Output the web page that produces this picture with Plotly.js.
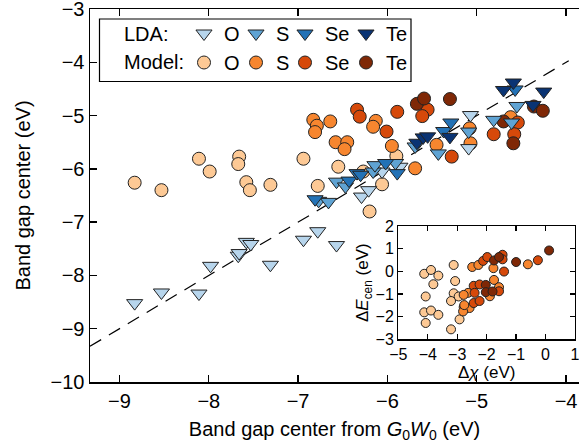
<!DOCTYPE html>
<html>
<head>
<meta charset="utf-8">
<script src="https://cdn.plot.ly/plotly-3.0.1.min.js"></script>
<style>html,body{margin:0;padding:0;background:#fff;}#plot{width:579px;height:446px;}</style>
</head>
<body>
<div id="plot"></div>
<script>
// ---------- main panel data ----------
const ldaO_x = [-8.83,-8.53,-8.11,-7.98,-7.67,-7.66,-7.58,-7.53,-7.31,-6.94,-6.78,-6.57,-6.29,-6.21,-6.06,-5.86,-5.07,-5.09];
const ldaO_y = [-8.52,-8.32,-8.34,-7.82,-7.63,-7.58,-7.37,-7.41,-7.80,-7.33,-7.17,-7.43,-6.52,-6.40,-6.05,-5.96,-4.99,-5.61];
const ldaS_x = [-6.77,-6.66,-6.57,-6.47,-6.16,-6.14,-5.91,-5.69,-5.43,-5.09,-4.81,-4.55,-4.61];
const ldaS_y = [-6.60,-6.62,-6.24,-6.33,-6.05,-5.93,-5.89,-5.58,-5.71,-5.30,-5.08,-4.82,-5.13];
const ldaSe_x = [-6.81,-6.43,-6.34,-6.30,-6.02,-5.89,-5.37,-5.29,-4.57];
const ldaSe_y = [-6.57,-6.22,-6.08,-6.11,-5.89,-6.08,-5.29,-5.13,-4.51];
const ldaTe_x = [-5.67,-5.60,-5.55,-5.30,-4.70,-4.59,-4.37,-4.25];
const ldaTe_y = [-5.51,-5.41,-5.39,-5.40,-4.52,-4.38,-4.80,-4.55];

const modO_x = [-8.83,-8.53,-8.11,-7.99,-7.66,-7.67,-7.58,-7.54,-7.31,-6.94,-6.78,-6.55,-6.27,-6.06,-6.20,-5.90];
const modO_y = [-6.26,-6.40,-5.81,-6.05,-5.77,-5.91,-6.25,-6.40,-6.30,-5.81,-6.32,-5.96,-6.05,-6.29,-6.80,-5.76];
const modS_x = [-6.83,-6.79,-6.81,-6.64,-6.58,-6.45,-6.48,-6.13,-6.16,-5.95,-5.69,-5.45,-5.08,-5.07,-4.62];
const modS_y = [-5.08,-5.19,-5.31,-5.11,-5.50,-5.50,-5.63,-5.10,-5.21,-5.57,-5.99,-5.55,-5.24,-5.52,-5.03];
const modSe_x = [-6.34,-6.31,-5.89,-6.01,-5.55,-5.61,-5.28,-4.81,-4.54,-4.58];
const modSe_y = [-4.89,-5.02,-4.93,-5.30,-4.89,-5.01,-5.77,-5.35,-5.13,-5.35];
const modTe_x = [-5.67,-5.59,-5.30,-4.70,-4.59,-4.36,-4.26];
const modTe_y = [-4.78,-4.68,-4.69,-5.11,-5.52,-4.83,-4.91];

// y = x guide line end points
const guide_x = [-9.33, -3.97];
const guide_y = [-9.33, -3.97];

// ---------- inset data (Model) ----------
const inO_x = [-4.12,-3.89,-3.64,-3.81,-4.07,-4.12,-3.89,-3.64,-4.07,-3.12,-3.07,-3.12,-3.21,-2.95,-2.92,-3.21];
const inO_y = [-0.11,0.06,-0.19,-0.57,-1.11,-1.81,-1.73,-1.92,-2.28,0.28,-0.43,-0.97,-1.31,-1.11,-2.12,-2.56];
const inS_x = [-2.49,-2.28,-1.77,-0.60,-1.75,-1.58,-1.89,-2.63,-2.78,-2.78,-2.58,-2.80,-2.76];
const inS_y = [0.19,0.28,0.14,0.31,-0.38,-0.70,-1.10,-0.95,-1.04,-1.58,-1.62,-1.77,-1.49];
const inSe_x = [-2.12,-1.98,-1.46,-1.46,-1.41,-0.26,-2.44,-2.24,-2.41,-2.44,-2.24,-1.58];
const inSe_y = [0.46,0.63,0.73,0.53,-0.01,0.49,-0.64,-0.58,-0.95,-1.40,-1.31,-0.88];
const inTe_x = [-1.75,-1.58,-1.00,0.12,-2.03,-2.03,-1.80];
const inTe_y = [0.48,0.63,0.41,0.92,-0.60,-0.92,-0.89];

const mainTicksX = [-9,-8,-7,-6,-5,-4];
const mainTicksY = [-10,-9,-8,-7,-6,-5,-4,-3];
const insetTicksX = [-5,-4,-3,-2,-1,0,1];
const insetTicksY = [-3,-2,-1,0,1,2];
const elements = ['O','S','Se','Te'];

// ---------- styles ----------
const ldaColors = ['#b7d5ec','#5fa3d3','#2372b6','#0a3474'];
const modColors = ['#fdc995','#f7862f','#d6490a','#7f2806'];
const FONT = 'Liberation Sans, Arial, Helvetica, sans-serif';
const edge = {color:'#222', width:1};

// pixel -> paper helpers (layout only)
const L = 90, T = 9, W = 489, H = 373;
const PX = p => (p - L) / W;
const PY = p => (T + H - p) / H;

const legendNames = ['legend','legend2','legend3','legend4'];
const modX = [modO_x, modS_x, modSe_x, modTe_x], modY = [modO_y, modS_y, modSe_y, modTe_y];
const ldaX = [ldaO_x, ldaS_x, ldaSe_x, ldaTe_x], ldaY = [ldaO_y, ldaS_y, ldaSe_y, ldaTe_y];
const inX = [inO_x, inS_x, inSe_x, inTe_x], inY = [inO_y, inS_y, inSe_y, inTe_y];

const traces = [];
traces.push({x: guide_x, y: guide_y, mode:'lines', line:{color:'#000', width:1.2, dash:'13px,9px'}, showlegend:false, hoverinfo:'skip'});
elements.forEach((el, i) => {
  traces.push({x: modX[i], y: modY[i], mode:'markers', name: el, legend: legendNames[i], legendrank: 2,
    marker:{symbol:'circle', size:13, color: modColors[i], line: edge}});
});
elements.forEach((el, i) => {
  traces.push({x: ldaX[i], y: ldaY[i], mode:'markers', name: el, legend: legendNames[i], legendrank: 1,
    marker:{symbol:'triangle-down', size:14, color: ldaColors[i], line: edge}});
});
elements.forEach((el, i) => {
  traces.push({x: inX[i], y: inY[i], mode:'markers', xaxis:'x2', yaxis:'y2', showlegend:false,
    marker:{symbol:'circle', size:9, color: modColors[i], line: edge}});
});

const symX = [204, 256, 305, 366];
const legendBase = {orientation:'v', xanchor:'left', yanchor:'top', y: PY(14), bgcolor:'rgba(0,0,0,0)',
  borderwidth:0, font:{family:FONT, size:20, color:'#000'}, tracegroupgap:0, itemclick:false};

const layout = {
  width:579, height:446,
  margin:{l:L, r:579-L-W, t:T, b:446-T-H, pad:0},
  paper_bgcolor:'#fff', plot_bgcolor:'rgba(0,0,0,0)',
  font:{family:FONT, size:20, color:'#000'},
  showlegend:true,
  xaxis:{range:[-9.33,-3.855], tickvals: mainTicksX, ticks:'inside', ticklen:7, tickwidth:1.3, tickcolor:'#000',
    showline:true, linecolor:'#000', linewidth:1.5, mirror:'allticks', showgrid:false, zeroline:false, ticklabeloverflow:'allow',
    tickfont:{size:20}, title:{text:'Band gap center from <i>G</i><sub>0</sub><i>W</i><sub>0</sub> (eV)', font:{size:20}, standoff:11}},
  yaxis:{range:[-10,-3], tickvals: mainTicksY, ticks:'inside', ticklen:7, tickwidth:1.3, tickcolor:'#000',
    showline:true, linecolor:'#000', linewidth:1.5, mirror:false, showgrid:false, zeroline:false, ticklabeloverflow:'allow',
    tickfont:{size:20}, title:{text:'Band gap center (eV)', font:{size:20}, standoff:14}},
  xaxis2:{domain:[PX(398.3), PX(575)], anchor:'y2', range:[-5,1], tickvals: insetTicksX, ticks:'inside', ticklen:5, tickwidth:1.2, tickcolor:'#000',
    showline:true, linecolor:'#000', linewidth:1.3, mirror:'allticks', showgrid:false, zeroline:false, ticklabeloverflow:'allow',
    tickfont:{size:16}, title:{text:'Δ<i>χ</i> (eV)', font:{size:17}, standoff:1}},
  yaxis2:{domain:[PY(339.3), PY(226)], anchor:'x2', range:[-3,2], tickvals: insetTicksY, ticks:'inside', ticklen:5, tickwidth:1.2, tickcolor:'#000',
    showline:true, linecolor:'#000', linewidth:1.3, mirror:'allticks', showgrid:false, zeroline:false, ticklabeloverflow:'allow',
    tickfont:{size:16}, title:{text:'Δ<i>E</i><sub>cen</sub> (eV)', font:{size:17}, standoff:2}},
  shapes:[
    {type:'rect', xref:'paper', yref:'paper', x0:PX(398.3), x1:PX(575), y0:PY(339.3), y1:PY(226), fillcolor:'#fff', line:{width:0}, layer:'below'},
    {type:'rect', xref:'paper', yref:'paper', x0:PX(99.5), x1:PX(411), y0:PY(81.5), y1:PY(19), fillcolor:'rgba(0,0,0,0)', line:{color:'#000', width:1.2}, layer:'above'}
  ],
  annotations:[
    {text:'LDA:', xref:'paper', yref:'paper', x:PX(122), y:PY(34), xanchor:'left', yanchor:'middle', showarrow:false, font:{size:20}},
    {text:'Model:', xref:'paper', yref:'paper', x:PX(122), y:PY(62), xanchor:'left', yanchor:'middle', showarrow:false, font:{size:20}}
  ]
};
legendNames.forEach((nm, i) => {
  layout[nm] = Object.assign({}, legendBase, {x: PX(symX[i] - 20)});
});

Plotly.newPlot('plot', traces, layout, {staticPlot:true, displayModeBar:false});
</script>
</body>
</html>
